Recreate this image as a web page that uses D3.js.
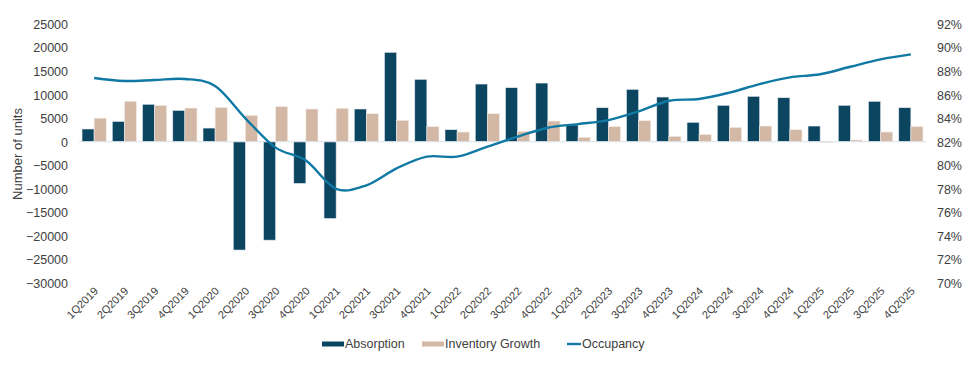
<!DOCTYPE html>
<html><head><meta charset="utf-8">
<script src="https://cdn.jsdelivr.net/npm/d3@7"></script>
<style>
body{margin:0;background:#fff;}
text{font-family:"Liberation Sans",Arial,sans-serif;}
</style></head>
<body><svg id="c" width="975" height="365"></svg>
<script>
const categories = ["1Q2019","2Q2019","3Q2019","4Q2019","1Q2020","2Q2020","3Q2020","4Q2020","1Q2021","2Q2021","3Q2021","4Q2021","1Q2022","2Q2022","3Q2022","4Q2022","1Q2023","2Q2023","3Q2023","4Q2023","1Q2024","2Q2024","3Q2024","4Q2024","1Q2025","2Q2025","3Q2025","4Q2025"];
const absorption = [2700,4300,7950,6650,2900,-23000,-20900,-8850,-16300,6950,18980,13250,2550,12250,11470,12460,3550,7220,11120,9490,4120,7730,9630,9340,3330,7730,8580,7220];
const inventoryGrowth = [5000,8600,7700,7150,7300,5600,7450,6950,7100,5950,4540,3200,2060,5950,2200,4390,930,3200,4460,1140,1560,3050,3330,2550,-150,360,2060,3200];
const occupancy = [87.41,87.16,87.24,87.33,86.73,83.99,81.5,80.4,78.0,78.3,79.74,80.73,80.73,81.58,82.43,83.19,83.5,83.84,84.58,85.48,85.63,86.17,86.9,87.47,87.73,88.37,89.0,89.42];
const leftTicks = [25000,20000,15000,10000,5000,0,-5000,-10000,-15000,-20000,-25000,-30000];
const rightTicks = [92,90,88,86,84,82,80,78,76,74,72,70];
const seriesNames = ["Absorption","Inventory Growth","Occupancy"];

const colAbs = "#0b4560", colInv = "#d3b8a5", colOcc = "#1079a3", txt = "#404040";
const svg = d3.select("#c");
const L = 79, R = 926, T = 24, B = 283;

const x = d3.scaleBand().domain(categories).range([L, R]).paddingInner(0.2).paddingOuter(0.1);
const x1 = d3.scaleBand().domain(["abs","inv"]).range([0, x.bandwidth()]);
const y = d3.scaleLinear().domain([-30000, 25000]).range([B, T]);
const y2 = d3.scaleLinear().domain([70, 92]).range([B, T]);

// left axis
const ga = svg.append("g").attr("transform", `translate(${68},0)`)
  .call(d3.axisLeft(y).tickValues(leftTicks).tickSize(0).tickPadding(0).tickFormat(d3.format("d")));
ga.select(".domain").remove();
ga.selectAll("text").attr("fill", txt).style("font-size","12.5px").attr("dy","0.35em");

// right axis
const gr = svg.append("g").attr("transform", `translate(${962},0)`)
  .call(d3.axisLeft(y2).tickValues(rightTicks).tickSize(0).tickPadding(0).tickFormat(d => d + "%"));
gr.select(".domain").remove();
gr.selectAll("text").attr("fill", txt).style("font-size","12.5px").attr("dy","0.35em");

// bars
const gb = svg.append("g");
gb.selectAll(".abs").data(categories).join("rect")
  .attr("x", d => x(d) + x1("abs"))
  .attr("width", x1.bandwidth())
  .attr("y", (d,i) => y(Math.max(0, absorption[i])))
  .attr("height", (d,i) => Math.abs(y(absorption[i]) - y(0)))
  .attr("fill", colAbs).attr("stroke","#dfe7ee").attr("stroke-width",0.6);
gb.selectAll(".inv").data(categories).join("rect")
  .attr("x", d => x(d) + x1("inv"))
  .attr("width", x1.bandwidth())
  .attr("y", (d,i) => y(Math.max(0, inventoryGrowth[i])))
  .attr("height", (d,i) => Math.abs(y(inventoryGrowth[i]) - y(0)))
  .attr("fill", colInv).attr("stroke","#f3ece6").attr("stroke-width",0.6);

// zero line
svg.append("line").attr("x1", L).attr("x2", R).attr("y1", y(0)).attr("y2", y(0))
  .attr("stroke", "#d9e1ea").attr("stroke-width", 1.2);

// occupancy line
const line = d3.line().x((d,i) => x(categories[i]) + x.bandwidth()/2).y(d => y2(d)).curve(d3.curveCardinal.tension(0));
svg.append("path").datum(occupancy).attr("d", line).attr("fill","none")
  .attr("stroke", colOcc).attr("stroke-width", 2.4);

// x labels
const gx = svg.append("g").attr("transform", `translate(0,${283})`)
  .call(d3.axisBottom(x).tickSize(0).tickPadding(0));
gx.select(".domain").remove();
gx.selectAll("text").attr("fill", txt).style("font-size","11px")
  .attr("text-anchor","end").attr("dy","0.35em").attr("dx","0")
  .attr("transform", "translate(2,6) rotate(-45)");

// y title
svg.append("text").attr("transform", "translate(22,154) rotate(-90)")
  .attr("text-anchor","middle").attr("fill", txt).style("font-size","13px").text("Number of units");

// legend
const lg = svg.append("g");
lg.append("rect").attr("x", 322).attr("y", 341.5).attr("width", 22).attr("height", 5).attr("fill", colAbs);
lg.append("text").attr("x", 345).attr("y", 348).attr("fill", txt).style("font-size","12.5px").text(seriesNames[0]);
lg.append("rect").attr("x", 422).attr("y", 341.5).attr("width", 22).attr("height", 5).attr("fill", colInv);
lg.append("text").attr("x", 445).attr("y", 348).attr("fill", txt).style("font-size","12.5px").text(seriesNames[1]);
lg.append("line").attr("x1", 567).attr("x2", 581).attr("y1", 344).attr("y2", 344).attr("stroke", colOcc).attr("stroke-width", 2.4);
lg.append("text").attr("x", 582).attr("y", 348).attr("fill", txt).style("font-size","12.5px").text(seriesNames[2]);
</script></body></html>
